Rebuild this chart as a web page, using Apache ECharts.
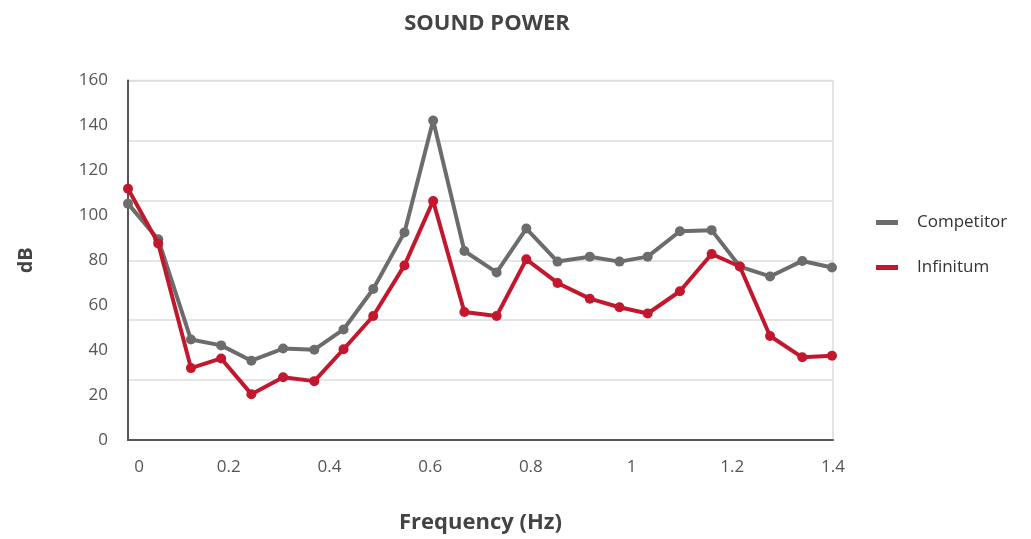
<!DOCTYPE html>
<html>
<head>
<meta charset="utf-8">
<script src="https://cdn.jsdelivr.net/npm/echarts@6/dist/echarts.min.js"></script>
<style>
html,body{margin:0;padding:0;background:#fff;}
#chart{width:1031px;height:539px;}
</style>
</head>
<body>
<div id="chart"></div>
<script>
// Frequency (Hz) of each measured point
var freq = [0, 0.06, 0.125, 0.185, 0.245, 0.308, 0.370, 0.428, 0.487, 0.549, 0.606, 0.668,
            0.732, 0.791, 0.853, 0.917, 0.976, 1.032, 1.096, 1.159, 1.215, 1.275, 1.339, 1.398];
// Sound power (dB)
var competitor = [105.2, 89.3, 44.7, 42.1, 35.3, 40.7, 40.2, 49.2, 67.2, 92.4, 142.2, 84.1,
                  74.6, 94.1, 79.4, 81.6, 79.4, 81.6, 92.9, 93.4, 77.2, 72.8, 79.7, 76.8];
var infinitum = [111.8, 87.5, 32.0, 36.3, 20.4, 27.9, 26.2, 40.4, 55.2, 77.7, 106.4, 57.0,
                 55.2, 80.4, 69.9, 62.9, 59.1, 56.3, 66.2, 82.8, 77.2, 46.3, 36.8, 37.5];
var seriesNames = ['Competitor', 'Infinitum'];
var xTicks = [0, 0.2, 0.4, 0.6, 0.8, 1, 1.2, 1.4];
var yTicks = [0, 20, 40, 60, 80, 100, 120, 140, 160];

function pairs(ys) { return ys.map(function (v, i) { return [freq[i], v]; }); }

var chart = echarts.init(document.getElementById('chart'));
var fontFam = '"Open Sans", sans-serif';
chart.setOption({
  animation: false,
  backgroundColor: '#ffffff',
  title: {
    text: 'SOUND POWER',
    left: 482, top: 8, textAlign: 'center',
    textStyle: { fontFamily: fontFam, fontSize: 22, fontWeight: 'bold', color: '#444' }
  },
  legend: {
    orient: 'vertical',
    left: 871, top: 209,
    itemWidth: 22, itemHeight: 5, itemGap: 28,
    icon: 'rect',
    data: seriesNames,
    textStyle: { fontFamily: fontFam, fontSize: 17, color: '#333', padding: [0, 0, 0, 14] }
  },
  grid: {
    left: 128, right: 198, top: 80.5, bottom: 95.5,
    show: true, borderColor: '#dddddd', borderWidth: 1.5
  },
  xAxis: {
    type: 'value', min: 0, max: 1.4, interval: 0.2,
    name: 'Frequency (Hz)', nameLocation: 'middle', nameGap: 72,
    nameTextStyle: { fontFamily: fontFam, fontSize: 22, fontWeight: 'bold', color: '#444' },
    axisLine: { show: true, lineStyle: { color: '#555', width: 2 } },
    axisTick: { show: false },
    splitLine: { show: false },
    axisLabel: {
      margin: 19, fontFamily: fontFam, fontSize: 17, color: '#555',
      formatter: function (v) {
        var s = String(Math.round(v * 10) / 10);
        return v === 0 ? '{z|' + s + '}' : s;
      },
      rich: { z: { fontFamily: fontFam, fontSize: 17, color: '#555', padding: [0, 0, 0, 22] } }
    }
  },
  yAxis: [{
    type: 'value', min: 0, max: 160, interval: 20,
    name: 'dB', nameLocation: 'middle', nameGap: 92, nameRotate: 90,
    nameTextStyle: { fontFamily: fontFam, fontSize: 20, fontWeight: 'bold', color: '#444' },
    axisLine: { show: true, lineStyle: { color: '#555', width: 2 } },
    axisTick: { show: false },
    splitLine: { show: false },
    axisLabel: { margin: 20, fontFamily: fontFam, fontSize: 17, color: '#555',
      formatter: function (v) { return yTicks.indexOf(v) >= 0 ? String(v) : ''; } }
  }, {
    type: 'value', min: 0, max: 6, interval: 1, position: 'left',
    axisLine: { show: false }, axisTick: { show: false }, axisLabel: { show: false },
    splitLine: { show: true, lineStyle: { color: '#dddddd', width: 1.5 } }
  }],
  series: [{
    name: seriesNames[0], type: 'line', data: pairs(competitor),
    symbol: 'circle', symbolSize: 10,
    lineStyle: { color: '#6c6c6c', width: 4 },
    itemStyle: { color: '#6c6c6c' }, z: 2
  }, {
    name: seriesNames[1], type: 'line', data: pairs(infinitum),
    symbol: 'circle', symbolSize: 10,
    lineStyle: { color: '#c3172d', width: 4 },
    itemStyle: { color: '#c3172d' }, z: 3
  }]
});
</script>
</body>
</html>
